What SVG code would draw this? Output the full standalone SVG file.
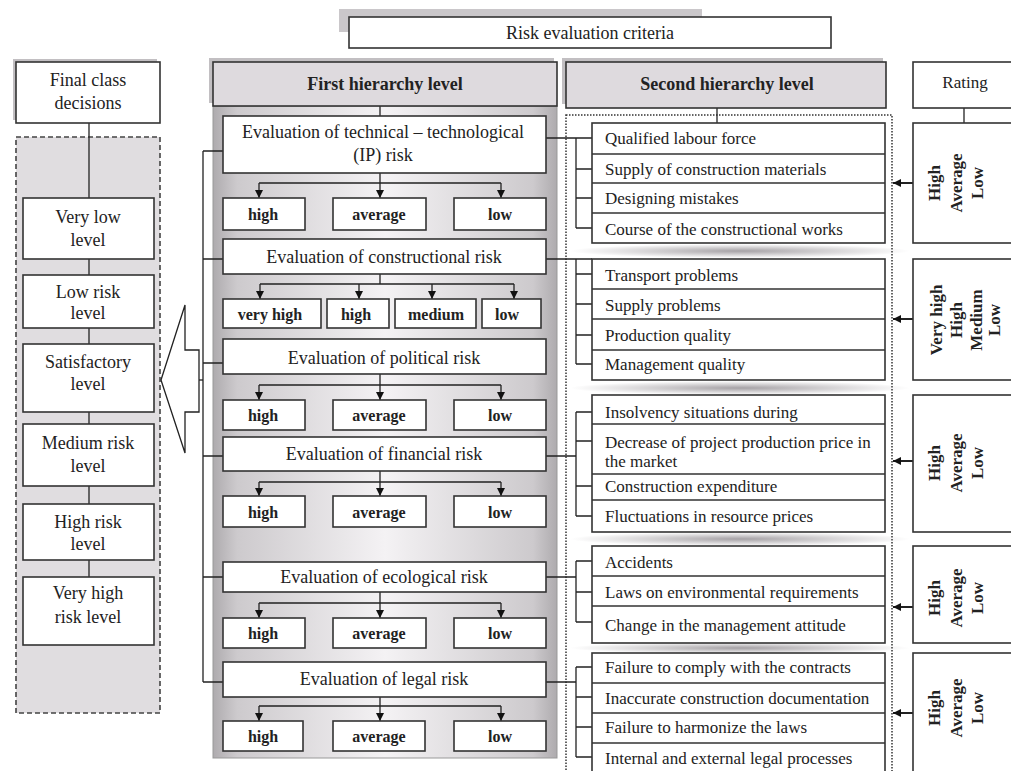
<svg xmlns="http://www.w3.org/2000/svg" width="1011" height="771" viewBox="0 0 1011 771">
<defs>
<style>
.t{font-family:"Liberation Serif","Times New Roman",serif;fill:#222}
.f18{font-size:18px}
.f17{font-size:17px}
.b{font-weight:bold}
.sub{font-size:16px;font-weight:bold}
.rt{font-size:17px;font-weight:bold}
.box{fill:#fff;stroke:#333;stroke-width:1.6}
.hdr{fill:#dedade;stroke:#333;stroke-width:1.6}
.shd{fill:#c2bfc2}
.ln{stroke:#222;stroke-width:1.3;fill:none}
.sep{stroke:#333;stroke-width:1.4}
</style>
<marker id="ah" viewBox="0 0 8 8" refX="8" refY="4" markerWidth="8" markerHeight="8" markerUnits="userSpaceOnUse" orient="auto">
<path d="M0,0 L8,4 L0,8 z" fill="#111"/>
</marker>
<linearGradient id="panel" x1="0" y1="0" x2="1" y2="0">
<stop offset="0" stop-color="#aeabae"/>
<stop offset="0.07" stop-color="#cdcacd"/>
<stop offset="0.5" stop-color="#f4f2f4"/>
<stop offset="0.93" stop-color="#cdcacd"/>
<stop offset="1" stop-color="#aeabae"/>
</linearGradient>
<radialGradient id="blur">
<stop offset="0" stop-color="#8f8a8f" stop-opacity="0.8"/>
<stop offset="1" stop-color="#8f8a8f" stop-opacity="0"/>
</radialGradient>
</defs>
<rect width="1011" height="771" fill="#fff"/>

<g id="backgrounds">
<rect x="16" y="137" width="144" height="576" fill="#e0dde0" stroke="#444" stroke-width="1.6" stroke-dasharray="5 3"/>
<rect x="213" y="106" width="344" height="652" fill="url(#panel)" stroke="#999" stroke-width="1"/>
<rect x="566" y="115" width="326" height="690" fill="none" stroke="#333" stroke-width="1.5" stroke-dasharray="1.5 1.5"/>
<ellipse cx="740" cy="251" rx="170" ry="7" fill="url(#blur)"/>
<ellipse cx="740" cy="388" rx="170" ry="7" fill="url(#blur)"/>
<ellipse cx="740" cy="539" rx="170" ry="7" fill="url(#blur)"/>
<ellipse cx="740" cy="648" rx="170" ry="6" fill="url(#blur)"/>
</g>

<g id="connectors" class="ln">
<line x1="89" y1="123" x2="89" y2="577"/>
<polygon points="161,380 185,305 185,350 199,350 199,412 185,412 185,453" fill="#fff" stroke="#222" stroke-width="1.3"/>
<line x1="199" y1="380" x2="203" y2="380"/>
<line x1="380" y1="106" x2="380" y2="116"/>
<line x1="717" y1="108" x2="717" y2="123"/>
<line x1="964" y1="108" x2="964" y2="123"/>
<path d="M203,151 V682 M203,151 H223 M203,259 H223 M203,363 H223 M203,456 H223 M203,577 H223 M203,682 H223"/>
<path d="M380,173 V183 M259,183 H501"/>
<line x1="259" y1="183" x2="259" y2="198" marker-end="url(#ah)"/>
<line x1="380" y1="183" x2="380" y2="198" marker-end="url(#ah)"/>
<line x1="501" y1="183" x2="501" y2="198" marker-end="url(#ah)"/>
<path d="M380,274 V284 M260,284 H514"/>
<line x1="260" y1="284" x2="260" y2="299" marker-end="url(#ah)"/>
<line x1="359" y1="284" x2="359" y2="299" marker-end="url(#ah)"/>
<line x1="432" y1="284" x2="432" y2="299" marker-end="url(#ah)"/>
<line x1="514" y1="284" x2="514" y2="299" marker-end="url(#ah)"/>
<path d="M380,374 V385 M259,385 H501"/>
<line x1="259" y1="385" x2="259" y2="400" marker-end="url(#ah)"/>
<line x1="380" y1="385" x2="380" y2="400" marker-end="url(#ah)"/>
<line x1="501" y1="385" x2="501" y2="400" marker-end="url(#ah)"/>
<path d="M380,471 V482 M259,482 H501"/>
<line x1="259" y1="482" x2="259" y2="496" marker-end="url(#ah)"/>
<line x1="380" y1="482" x2="380" y2="496" marker-end="url(#ah)"/>
<line x1="501" y1="482" x2="501" y2="496" marker-end="url(#ah)"/>
<path d="M380,592 V603 M259,603 H501"/>
<line x1="259" y1="603" x2="259" y2="618" marker-end="url(#ah)"/>
<line x1="380" y1="603" x2="380" y2="618" marker-end="url(#ah)"/>
<line x1="501" y1="603" x2="501" y2="618" marker-end="url(#ah)"/>
<path d="M380,697 V706 M259,706 H501"/>
<line x1="259" y1="706" x2="259" y2="721" marker-end="url(#ah)"/>
<line x1="380" y1="706" x2="380" y2="721" marker-end="url(#ah)"/>
<line x1="501" y1="706" x2="501" y2="721" marker-end="url(#ah)"/>
<path d="M546,138 H592 M576,138 V228 M576,169 H592 M576,198 H592 M576,228 H592"/>
<path d="M546,259 H592 M576,259 V364 M576,274 H592 M576,304 H592 M576,335 H592 M576,364 H592"/>
<path d="M546,456 H576 M576,412 V516 M576,412 H592 M576,441 H592 M576,486 H592 M576,516 H592"/>
<path d="M546,577 H576 M576,561 V622 M576,561 H592 M576,592 H592 M576,622 H592"/>
<path d="M546,682 H576 M576,667 V757 M576,667 H592 M576,697 H592 M576,727 H592 M576,757 H592"/>
<line x1="913" y1="183" x2="893" y2="183" stroke-width="2" marker-end="url(#ah)"/>
<line x1="913" y1="319" x2="893" y2="319" stroke-width="2" marker-end="url(#ah)"/>
<line x1="913" y1="461" x2="893" y2="461" stroke-width="2" marker-end="url(#ah)"/>
<line x1="913" y1="607" x2="893" y2="607" stroke-width="2" marker-end="url(#ah)"/>
<line x1="913" y1="713" x2="893" y2="713" stroke-width="2" marker-end="url(#ah)"/>
</g>

<g id="risk-criteria">
<rect x="339" y="9" width="363" height="23" fill="#cac7ca"/>
<rect x="349" y="17" width="482" height="31" class="box"/>
<text x="590" y="39" text-anchor="middle" class="t f18">Risk evaluation criteria</text>
</g>

<g id="final-class">
<rect x="13" y="59" width="144" height="61" class="shd"/>
<rect x="16" y="62" width="144" height="61" class="box"/>
<text x="88" y="86" text-anchor="middle" class="t f18">Final class</text>
<text x="88" y="109" text-anchor="middle" class="t f18">decisions</text>
</g>
<g id="very-low">
<rect x="23" y="198" width="131" height="61" class="box"/>
<text x="88" y="223" text-anchor="middle" class="t f18">Very low</text>
<text x="88" y="246" text-anchor="middle" class="t f18">level</text>
</g>
<g id="low-risk">
<rect x="23" y="275" width="131" height="53" class="box"/>
<text x="88" y="298" text-anchor="middle" class="t f18">Low risk</text>
<text x="88" y="319" text-anchor="middle" class="t f18">level</text>
</g>
<g id="satisfactory">
<rect x="23" y="344" width="131" height="68" class="box"/>
<text x="88" y="368" text-anchor="middle" class="t f18">Satisfactory</text>
<text x="88" y="390" text-anchor="middle" class="t f18">level</text>
</g>
<g id="medium-risk">
<rect x="23" y="424" width="131" height="62" class="box"/>
<text x="88" y="449" text-anchor="middle" class="t f18">Medium risk</text>
<text x="88" y="472" text-anchor="middle" class="t f18">level</text>
</g>
<g id="high-risk">
<rect x="23" y="504" width="131" height="56" class="box"/>
<text x="88" y="528" text-anchor="middle" class="t f18">High risk</text>
<text x="88" y="550" text-anchor="middle" class="t f18">level</text>
</g>
<g id="very-high-risk">
<rect x="23" y="577" width="131" height="68" class="box"/>
<text x="88" y="599" text-anchor="middle" class="t f18">Very high</text>
<text x="88" y="623" text-anchor="middle" class="t f18">risk level</text>
</g>

<g id="first-header">
<rect x="209" y="58" width="345" height="45" class="shd"/>
<rect x="213" y="62" width="344" height="44" class="hdr"/>
<text x="385" y="90" text-anchor="middle" class="t f18 b">First hierarchy level</text>
</g>
<g id="technical">
<rect x="223" y="116" width="323" height="57" class="box"/>
<text x="383" y="138" text-anchor="middle" class="t f18">Evaluation of technical – technological</text>
<text x="383" y="161" text-anchor="middle" class="t f18">(IP) risk</text>
</g>
<g id="technical-levels">
<rect x="223" y="198" width="82" height="32" class="box"/><text x="263" y="220" text-anchor="middle" class="t sub">high</text>
<rect x="333" y="198" width="93" height="32" class="box"/><text x="379" y="220" text-anchor="middle" class="t sub">average</text>
<rect x="454" y="198" width="92" height="32" class="box"/><text x="500" y="220" text-anchor="middle" class="t sub">low</text>
</g>
<g id="constructional">
<rect x="223" y="239" width="323" height="35" class="box"/>
<text x="384" y="263" text-anchor="middle" class="t f18">Evaluation of constructional risk</text>
</g>
<g id="constructional-levels">
<rect x="223" y="299" width="98" height="29" class="box"/><text x="270" y="320" text-anchor="middle" class="t sub">very high</text>
<rect x="327" y="299" width="62" height="29" class="box"/><text x="356" y="320" text-anchor="middle" class="t sub">high</text>
<rect x="395" y="299" width="81" height="29" class="box"/><text x="436" y="320" text-anchor="middle" class="t sub">medium</text>
<rect x="482" y="299" width="59" height="29" class="box"/><text x="507" y="320" text-anchor="middle" class="t sub">low</text>
</g>
<g id="political">
<rect x="223" y="339" width="323" height="35" class="box"/>
<text x="384" y="364" text-anchor="middle" class="t f18">Evaluation of political risk</text>
</g>
<g id="political-levels">
<rect x="223" y="400" width="82" height="30" class="box"/><text x="263" y="421" text-anchor="middle" class="t sub">high</text>
<rect x="333" y="400" width="93" height="30" class="box"/><text x="379" y="421" text-anchor="middle" class="t sub">average</text>
<rect x="454" y="400" width="92" height="30" class="box"/><text x="500" y="421" text-anchor="middle" class="t sub">low</text>
</g>
<g id="financial">
<rect x="223" y="437" width="323" height="34" class="box"/>
<text x="384" y="460" text-anchor="middle" class="t f18">Evaluation of financial risk</text>
</g>
<g id="financial-levels">
<rect x="223" y="496" width="82" height="31" class="box"/><text x="263" y="518" text-anchor="middle" class="t sub">high</text>
<rect x="333" y="496" width="93" height="31" class="box"/><text x="379" y="518" text-anchor="middle" class="t sub">average</text>
<rect x="454" y="496" width="92" height="31" class="box"/><text x="500" y="518" text-anchor="middle" class="t sub">low</text>
</g>
<g id="ecological">
<rect x="223" y="562" width="323" height="30" class="box"/>
<text x="384" y="583" text-anchor="middle" class="t f18">Evaluation of ecological risk</text>
</g>
<g id="ecological-levels">
<rect x="223" y="618" width="82" height="30" class="box"/><text x="263" y="639" text-anchor="middle" class="t sub">high</text>
<rect x="333" y="618" width="93" height="30" class="box"/><text x="379" y="639" text-anchor="middle" class="t sub">average</text>
<rect x="454" y="618" width="92" height="30" class="box"/><text x="500" y="639" text-anchor="middle" class="t sub">low</text>
</g>
<g id="legal">
<rect x="223" y="662" width="323" height="35" class="box"/>
<text x="384" y="685" text-anchor="middle" class="t f18">Evaluation of legal risk</text>
</g>
<g id="legal-levels">
<rect x="223" y="721" width="80" height="30" class="box"/><text x="263" y="742" text-anchor="middle" class="t sub">high</text>
<rect x="333" y="721" width="92" height="30" class="box"/><text x="379" y="742" text-anchor="middle" class="t sub">average</text>
<rect x="454" y="721" width="92" height="30" class="box"/><text x="500" y="742" text-anchor="middle" class="t sub">low</text>
</g>

<g id="second-header">
<rect x="562" y="58" width="321" height="46" class="shd"/>
<rect x="566" y="62" width="320" height="46" class="hdr"/>
<text x="727" y="90" text-anchor="middle" class="t f18 b">Second hierarchy level</text>
</g>
<g id="technical-factors">
<rect x="592" y="123" width="293" height="120" class="box"/>
<path class="sep" d="M592,154 H885 M592,183 H885 M592,213 H885"/>
<text x="605" y="144" class="t f17">Qualified labour force</text>
<text x="605" y="175" class="t f17">Supply of construction materials</text>
<text x="605" y="204" class="t f17">Designing mistakes</text>
<text x="605" y="235" class="t f17">Course of the constructional works</text>
</g>
<g id="constructional-factors">
<rect x="592" y="259" width="293" height="121" class="box"/>
<path class="sep" d="M592,289 H885 M592,319 H885 M592,350 H885"/>
<text x="605" y="281" class="t f17">Transport problems</text>
<text x="605" y="311" class="t f17">Supply problems</text>
<text x="605" y="341" class="t f17">Production quality</text>
<text x="605" y="370" class="t f17">Management quality</text>
</g>
<g id="financial-factors">
<rect x="592" y="395" width="293" height="137" class="box"/>
<path class="sep" d="M592,424 H885 M592,474 H885 M592,500 H885"/>
<text x="605" y="418" class="t f17">Insolvency situations during</text>
<text x="605" y="448" class="t f17">Decrease of project production price in</text>
<text x="605" y="467" class="t f17">the market</text>
<text x="605" y="492" class="t f17">Construction expenditure</text>
<text x="605" y="522" class="t f17">Fluctuations in resource prices</text>
</g>
<g id="ecological-factors">
<rect x="592" y="546" width="293" height="97" class="box"/>
<path class="sep" d="M592,576 H885 M592,606 H885"/>
<text x="605" y="568" class="t f17">Accidents</text>
<text x="605" y="598" class="t f17">Laws on environmental requirements</text>
<text x="605" y="631" class="t f17">Change in the management attitude</text>
</g>
<g id="legal-factors">
<rect x="592" y="653" width="293" height="130" class="box"/>
<path class="sep" d="M592,683 H885 M592,713 H885 M592,743 H885"/>
<text x="605" y="673" class="t f17">Failure to comply with the contracts</text>
<text x="605" y="704" class="t f17">Inaccurate construction documentation</text>
<text x="605" y="733" class="t f17">Failure to harmonize the laws</text>
<text x="605" y="764" class="t f17">Internal and external legal processes</text>
</g>

<g id="rating-header">
<rect x="913" y="62" width="110" height="46" class="box"/>
<text x="965" y="88" text-anchor="middle" class="t f17">Rating</text>
</g>
<g id="rating-technical">
<rect x="913" y="123" width="110" height="120" class="box"/>
<text transform="translate(957,183) rotate(-90)" text-anchor="middle" class="t rt"><tspan x="0" y="-17">High</tspan><tspan x="0" y="5">Average</tspan><tspan x="0" y="26">Low</tspan></text>
</g>
<g id="rating-constructional">
<rect x="913" y="259" width="110" height="121" class="box"/>
<text transform="translate(962,320) rotate(-90)" text-anchor="middle" class="t rt"><tspan x="0" y="-20">Very high</tspan><tspan x="0" y="0">High</tspan><tspan x="0" y="20">Medium</tspan><tspan x="0" y="38">Low</tspan></text>
</g>
<g id="rating-financial">
<rect x="913" y="395" width="110" height="137" class="box"/>
<text transform="translate(957,463) rotate(-90)" text-anchor="middle" class="t rt"><tspan x="0" y="-17">High</tspan><tspan x="0" y="5">Average</tspan><tspan x="0" y="26">Low</tspan></text>
</g>
<g id="rating-ecological">
<rect x="913" y="546" width="110" height="97" class="box"/>
<text transform="translate(957,598) rotate(-90)" text-anchor="middle" class="t rt"><tspan x="0" y="-17">High</tspan><tspan x="0" y="5">Average</tspan><tspan x="0" y="26">Low</tspan></text>
</g>
<g id="rating-legal">
<rect x="913" y="653" width="110" height="130" class="box"/>
<text transform="translate(957,708) rotate(-90)" text-anchor="middle" class="t rt"><tspan x="0" y="-17">High</tspan><tspan x="0" y="5">Average</tspan><tspan x="0" y="26">Low</tspan></text>
</g>
</svg>
